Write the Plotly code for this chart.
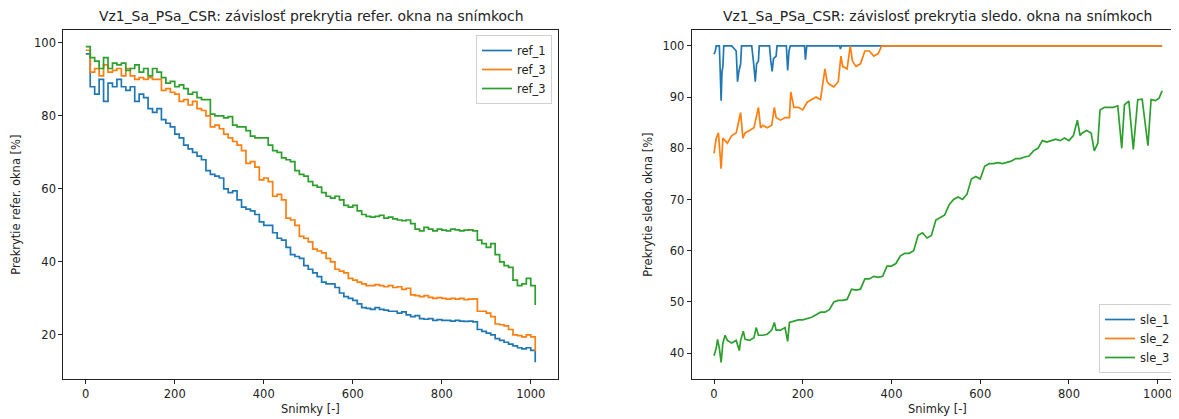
import plotly.graph_objects as go

# The page body has an 8px margin, so the figure is drawn 8px in from the
# top-left corner of the window; its size and pixel positions account for that.
PAGE_W, PAGE_H = 1179, 419
OFF = 8
W, H = PAGE_W - OFF, PAGE_H - OFF

# ---------------- data: left plot (reference window overlap) ----------------
frames_ref = list(range(0, 1011, 10))

ref_1 = [97, 88, 86, 90, 84, 89, 88, 90, 88, 87,
         88, 84, 86, 85, 82, 81, 82, 79, 78, 77,
         75, 74, 72, 71, 70, 69, 68, 65, 64, 63.5,
         63, 60, 59, 59.5, 57, 55, 54.5, 54, 53, 51,
         50, 50, 48, 46.5, 46, 44, 42, 41.5, 41, 39,
         38, 37, 36, 34.5, 34, 34, 33, 31.5, 30.5, 30,
         29.5, 28.5, 27.5, 27.3, 27, 27.5, 27, 26.8, 26.5, 26.5,
         26, 26.3, 25.5, 25, 25.3, 24.5, 24.3, 24.5, 24, 24.2,
         24, 24, 23.8, 24, 23.8, 23.7, 23.8, 23.6, 21.5, 21,
         20.5, 20, 19, 18.5, 18, 17.5, 17, 16.5, 16.2, 16.5,
         15.8, 12.5]

ref_2 = [98, 92, 93, 91, 94, 92, 92.5, 93, 91, 93,
         91, 90, 90.5, 90, 90.5, 90, 90, 87, 87.5, 86.5,
         86, 84, 84.5, 83, 84, 82, 81.5, 80, 77, 77.5,
         76.5, 75, 74, 73, 72, 70.5, 67, 67.5, 66, 62.5,
         63, 62, 58, 58.5, 57, 52, 51.5, 50, 47, 46.5,
         45.5, 43.5, 43, 42.5, 41, 40, 38, 37.5, 37, 35.5,
         35, 34.5, 34, 33.5, 33.5, 33.8, 33.5, 33.2, 33.5, 33,
         33.2, 32.5, 32.8, 31, 30.8, 30.5, 30.8, 30.3, 30, 30.2,
         30, 29.8, 30, 29.8, 30, 29.7, 29.8, 29.9, 26.5, 26.5,
         26, 25, 23, 22.8, 22.5, 21.5, 20, 19.8, 19.5, 20,
         19.5, 15.5]

ref_3 = [99, 96, 95, 93, 96, 93, 94.5, 94, 94.5, 92.5,
         93, 94, 92, 93, 91, 93, 92, 90.5, 89, 89.5,
         88, 88.5, 87.5, 86, 86.5, 85, 84.5, 84.5, 80.5, 80,
         80, 79.5, 79.8, 77.5, 77, 77, 76, 74.5, 74, 74,
         74, 72, 70.5, 70, 68.5, 68, 67.5, 65, 64, 63.5,
         62, 61, 60.5, 59, 58, 57.5, 58, 57, 55.5, 55,
         55.5, 54, 53, 52.5, 52.3, 52.5, 52.8, 52, 52.3, 51.8,
         51.5, 51.3, 51.5, 50.5, 49, 48.5, 49.5, 49, 48.5, 49,
         48.7, 48.5, 49, 48.8, 48.5, 48.7, 48.8, 48.5, 46, 45,
         44, 45, 42, 40, 39, 38.5, 35, 33.5, 34, 35.5,
         33.5, 28.2]

ref_names = ["ref_1", "ref_3", "ref_3"]

# ---------------- data: right plot (tracked window overlap) ----------------
frames_sle_1 = [0, 3, 5, 12, 14, 16, 18, 20, 22, 40,
                50, 53, 56, 60, 62, 85, 90, 93, 96, 100,
                102, 125, 128, 131, 134, 140, 142, 163, 166, 169,
                172, 204, 206, 209, 283, 285, 287, 1010]
sle_1 = [98.4, 99, 100, 100, 95, 89.3, 95, 96, 100, 100,
         99, 93, 95, 96.5, 100, 100, 96, 93, 96.5, 97,
         100, 100, 97, 95, 97.5, 98, 100, 100, 95.2, 99,
         100, 100, 97.3, 100, 100, 99.4, 100, 100]

frames_sle_2 = [0, 5, 10, 16, 20, 30, 40, 50, 55, 60,
                65, 70, 80, 90, 100, 105, 110, 120, 130, 136,
                140, 150, 160, 170, 173, 180, 190, 200, 210, 220,
                230, 240, 250, 255, 260, 270, 280, 286, 290, 300,
                307, 312, 320, 330, 340, 350, 360, 370, 378, 1010]
sle_2 = [79, 82, 83, 76, 82, 81, 82.5, 83, 85, 87,
         82, 83, 83.5, 84, 88, 84, 84.5, 84, 84.5, 88,
         86, 85.5, 86, 86, 91, 88, 88, 87.5, 89, 89.5,
         90, 89.5, 95.5, 93, 92.5, 92, 93, 98, 96, 95.5,
         100, 97, 96, 96.5, 99, 99, 98, 98.5, 100, 100]

frames_sle_3 = [0, 5, 8, 12, 16, 20, 25, 30, 40, 50,
                57, 60, 66, 70, 80, 90, 95, 100, 110, 120,
                130, 136, 140, 150, 160, 166, 170, 180, 190, 200,
                210, 220, 230, 240, 250, 260, 270, 280, 290, 300,
                310, 320, 330, 340, 350, 360, 370, 380, 390, 400,
                410, 420, 430, 440, 450, 460, 470, 480, 490, 500,
                510, 520, 530, 540, 550, 560, 570, 580, 590, 600,
                610, 620, 630, 640, 650, 660, 670, 680, 690, 700,
                710, 720, 730, 740, 750, 760, 770, 780, 790, 800,
                810, 819, 825, 830, 840, 850, 857, 865, 870, 880,
                890, 900, 910, 919, 925, 935, 945, 955, 965, 978,
                985, 995, 1003, 1010]
sle_3 = [39.5, 41, 42.7, 41, 38.2, 42, 43.5, 42.5, 42, 42.5,
         40.5, 42.5, 44.3, 42.7, 42.5, 43, 45, 43.5, 43.5, 43.7,
         44.5, 46, 44.5, 44.5, 45, 42.3, 46, 46.3, 46.5, 46.5,
         46.8, 47, 47.5, 48, 48, 48.5, 50, 50.3, 50.3, 50.5,
         52.5, 52.3, 52.5, 54.5, 54.5, 55, 54.8, 55, 57, 57,
         57.5, 59, 59.5, 59.5, 60, 63, 63.5, 62.5, 63, 66,
         66.5, 67, 69, 70, 70.5, 70, 71, 74, 74.5, 74,
         76.5, 77, 77, 77.2, 77, 77.3, 77.5, 78, 78, 78.3,
         78.5, 79.5, 80, 81.5, 81.2, 81.5, 81.8, 81.5, 82, 81.5,
         82.5, 85.5, 82.5, 83, 83.5, 83, 79.5, 81, 87.5, 88,
         88, 88, 88.3, 80, 88.5, 89.2, 79.8, 89.5, 89.6, 80.5,
         89.5, 89.3, 89.8, 91.2]

sle_names = ["sle_1", "sle_2", "sle_3"]

colors = ["#1f77b4", "#ff7f0e", "#2ca02c"]

left_ticks_x = [0, 200, 400, 600, 800, 1000]
left_ticks_y = [20, 40, 60, 80, 100]
right_ticks_y = [40, 50, 60, 70, 80, 90, 100]

title_left = "Vz1_Sa_PSa_CSR: závislosť prekrytia refer. okna na snímkoch"
title_right = "Vz1_Sa_PSa_CSR: závislosť prekrytia sledo. okna na snímkoch"
ylabel_left = "Prekrytie refer. okna [%]"
ylabel_right = "Prekrytie sledo. okna [%]"
xlabel = "Snimky [-]"

# ---------------- figure ----------------
FONT = "DejaVu Sans"
TICK_FS = 11.5
TITLE_FS = 13.9

fig = go.Figure()

for name, ys, c in zip(ref_names, [ref_1, ref_2, ref_3], colors):
    fig.add_trace(go.Scatter(x=frames_ref, y=ys, mode="lines", name=name,
                             line=dict(color=c, width=1.7, shape="hv"),
                             xaxis="x", yaxis="y", legend="legend"))

for name, xs, ys, c in zip(sle_names, [frames_sle_1, frames_sle_2, frames_sle_3],
                           [sle_1, sle_2, sle_3], colors):
    fig.add_trace(go.Scatter(x=xs, y=ys, mode="lines", name=name,
                             line=dict(color=c, width=1.7),
                             xaxis="x2", yaxis="y2", legend="legend2"))


def px_x(p):
    """page pixel x -> paper fraction"""
    return (p - OFF) / W


def px_y(p):
    """page pixel y -> paper fraction"""
    return 1 - (p - OFF) / H


axis_common = dict(showgrid=False, zeroline=False, showline=True, linecolor="#222",
                   linewidth=1, ticks="outside", ticklen=4, tickwidth=1, tickcolor="#222",
                   tickfont=dict(family=FONT, size=TICK_FS, color="#222"))

L0, L1 = 63.3, 557.7
R0 = 691.7
T0, B0 = 30, 379.3

fig.update_layout(
    width=W, height=H,
    margin=dict(l=0, r=0, t=0, b=0),
    paper_bgcolor="white", plot_bgcolor="white",
    font=dict(family=FONT, color="#222"),
    xaxis=dict(domain=[px_x(L0), px_x(L1)], range=[-50.5, 1060.5], tickvals=left_ticks_x,
               mirror=True, anchor="y", **axis_common),
    yaxis=dict(domain=[px_y(B0), px_y(T0)], range=[7.85, 103.55], tickvals=left_ticks_y,
               mirror=True, anchor="x", **axis_common),
    xaxis2=dict(domain=[px_x(R0), 1.0], range=[-50.3, 1048], tickvals=left_ticks_x,
                mirror=True, anchor="y2", **axis_common),
    yaxis2=dict(domain=[px_y(B0), px_y(T0)], range=[34.9, 103.1], tickvals=right_ticks_y,
                mirror=False, anchor="x2", **axis_common),
    legend=dict(x=px_x(552), y=px_y(35), xanchor="right", yanchor="top",
                bgcolor="rgba(255,255,255,0.85)", bordercolor="#d0d0d0", borderwidth=1,
                font=dict(family=FONT, size=TICK_FS, color="#222"),
                tracegroupgap=0, itemwidth=30),
    legend2=dict(x=px_x(1176), y=px_y(373), xanchor="right", yanchor="bottom",
                 bgcolor="rgba(255,255,255,0.85)", bordercolor="#d0d0d0", borderwidth=1,
                 font=dict(family=FONT, size=TICK_FS, color="#222"),
                 tracegroupgap=0, itemwidth=30),
    showlegend=True,
)

annots = [
    dict(text=title_left, x=px_x((L0 + L1) / 2), y=px_y(16), font_size=TITLE_FS),
    dict(text=title_right, x=px_x(937.8), y=px_y(16), font_size=TITLE_FS),
    dict(text=xlabel, x=px_x((L0 + L1) / 2), y=px_y(409), font_size=TICK_FS),
    dict(text=xlabel, x=px_x(937.8), y=px_y(409), font_size=TICK_FS),
    dict(text=ylabel_left, x=px_x(16), y=px_y((T0 + B0) / 2), font_size=TICK_FS, textangle=-90),
    dict(text=ylabel_right, x=px_x(648), y=px_y((T0 + B0) / 2), font_size=TICK_FS, textangle=-90),
]
for a in annots:
    fig.add_annotation(xref="paper", yref="paper", showarrow=False,
                       xanchor="center", yanchor="middle",
                       font=dict(family=FONT, size=a.pop("font_size"), color="#222"), **a)

fig.write_html("out.html")
